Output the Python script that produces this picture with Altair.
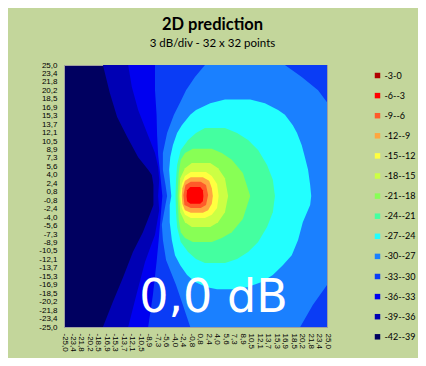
import altair as alt
import pandas as pd

# ---- legend bands (top to bottom) and their colours ----
bands = ["-3-0", "-6--3", "-9--6", "-12--9", "-15--12", "-18--15", "-21--18",
         "-24--21", "-27--24", "-30--27", "-33--30", "-36--33", "-39--36", "-42--39"]
colors = ["#b00000", "#ff0000", "#ff5a2a", "#ffa640", "#ffff40", "#ccff44", "#88ff55",
          "#44ffa0", "#22ffff", "#1a80ff", "#0a3cf5", "#0000f0", "#0000b4", "#000060"]

# ---- axis tick labels (32 grid points, -25 .. 25) ----
tick_labels = ["-25,0", "-23,4", "-21,8", "-20,2", "-18,5", "-16,9", "-15,3", "-13,7",
               "-12,1", "-10,5", "-8,9", "-7,3", "-5,6", "-4,0", "-2,4", "-0,8",
               "0,8", "2,4", "4,0", "5,6", "7,3", "8,9", "10,5", "12,1",
               "13,7", "15,3", "16,9", "18,5", "20,2", "21,8", "23,4", "25,0"]
tick_values = [-25 + i * 50 / 31 for i in range(32)]

# ---- contour regions: rows of (y, x_left, x_right) ----
above_39 = [(25.0, -17.6, 25), (19.7, -16.3, 25), (15.1, -14.9, 25), (11.3, -13.0, 25),
            (7.4, -10.9, 25), (5.0, -9.0, 25), (4.0, -8.3, 25), (2.1, -8.0, 25),
            (-1.7, -8.0, 25), (-3.6, -8.7, 25), (-6.9, -10.0, 25), (-10.7, -11.9, 25),
            (-15.6, -13.8, 25), (-20.2, -15.7, 25), (-25.0, -17.6, 25)]
above_36 = [(25.0, -12.8, 25), (20.8, -12.1, 25), (16.4, -10.9, 25), (12.0, -9.2, 25),
            (8.2, -7.7, 25), (5.5, -7.1, 25), (3.1, -6.9, 25), (0.0, -7.1, 25),
            (-2.7, -6.9, 25), (-7.4, -7.7, 25), (-12.6, -9.6, 25), (-18.3, -11.1, 25),
            (-25.0, -12.8, 25)]
above_33 = [(25.0, -7.7, 25), (20.2, -7.7, 25), (15.5, -7.4, 25), (11.6, -7.3, 25),
            (7.8, -7.1, 25), (5.0, -6.8, 25), (0.0, -6.3, 25), (-3.6, -6.6, 25),
            (-8.4, -7.0, 25), (-12.6, -7.4, 25), (-18.9, -8.1, 25), (-25.0, -9.0, 25)]
above_30 = [(25.0, 1.8, 17.0), (22.7, -0.1, 20.2), (20.2, -1.8, 23.3), (17.9, -2.9, 25),
            (15.5, -4.1, 25), (12.0, -5.4, 25), (8.2, -6.2, 25), (5.0, -6.2, 25),
            (2.1, -5.7, 25), (0.0, -5.4, 25), (-2.7, -5.9, 25), (-5.5, -6.4, 25),
            (-8.4, -6.2, 25), (-12.2, -5.6, 25), (-17.0, -3.7, 25), (-20.8, -2.4, 22.3),
            (-25.0, -1.0, 19.9)]
above_27 = [(18.4, 5.6, 10.4), (17.7, 2.8, 13.2), (16.4, 0.1, 15.7), (15.5, -1.0, 17.0),
            (13.5, -2.6, 18.5), (12.0, -3.5, 19.3), (9.7, -4.3, 20.2), (7.4, -4.8, 20.8),
            (5.0, -5.0, 21.4), (2.1, -4.8, 21.8), (0.0, -4.6, 22.0), (-1.7, -4.9, 21.8),
            (-5.0, -4.9, 20.4), (-8.4, -4.5, 19.5), (-11.3, -3.9, 18.3), (-13.2, -2.9, 16.6),
            (-15.1, -1.6, 14.7), (-16.4, -0.1, 12.6), (-17.4, 2.2, 9.8), (-17.8, 4.1, 6.9)]
above_24 = [(13.0, 1.8, 5.6), (12.0, 0.1, 7.9), (10.7, -1.4, 10.0), (8.8, -2.8, 11.9),
            (5.9, -3.5, 13.6), (3.1, -3.7, 14.7), (0.0, -3.8, 15.1), (-3.1, -3.7, 14.7),
            (-5.9, -3.5, 13.6), (-8.8, -2.8, 11.9), (-10.7, -1.4, 10.0), (-12.0, 0.1, 7.9),
            (-12.8, 1.8, 5.6)]
above_21 = [(9.0, -0.5, 3.1), (8.2, -2.0, 5.0), (6.9, -2.8, 6.9), (4.4, -3.2, 9.0),
            (0.0, -3.4, 10.4), (-4.4, -3.2, 9.0), (-6.9, -2.8, 6.9), (-8.0, -2.0, 5.0),
            (-8.8, -0.5, 3.1)]
above_18 = [(6.3, -0.7, 2.8), (5.3, -2.0, 4.3), (3.4, -2.9, 5.6), (0.0, -3.1, 6.2),
            (-3.1, -2.9, 5.6), (-5.0, -2.0, 4.3), (-5.9, -0.7, 2.8)]
above_15 = [(4.6, -0.9, 2.0), (3.8, -2.0, 3.1), (2.3, -2.6, 4.1), (0.0, -2.9, 4.4),
            (-2.3, -2.6, 4.1), (-3.6, -2.0, 3.1), (-4.2, -0.9, 1.8)]
above_12 = [(3.6, -0.9, 1.4), (2.9, -2.0, 2.6), (1.5, -2.5, 3.1), (0.0, -2.6, 3.3),
            (-1.5, -2.5, 3.1), (-2.7, -2.0, 2.4), (-3.2, -0.9, 1.4)]
above_9 = [(2.7, -0.9, 1.0), (2.1, -1.9, 2.0), (0.2, -2.3, 2.4), (-1.7, -2.1, 2.0),
           (-2.3, -0.9, 1.0)]
above_6 = [(1.7, -1.0, 0.9), (1.1, -1.6, 1.4), (0.0, -1.7, 1.5), (-1.0, -1.6, 1.4),
           (-1.5, -1.0, 0.9)]

levels = [("-39--36", above_39), ("-36--33", above_36), ("-33--30", above_33),
          ("-30--27", above_30), ("-27--24", above_27), ("-24--21", above_24),
          ("-21--18", above_21), ("-18--15", above_18), ("-15--12", above_15),
          ("-12--9", above_12), ("-9--6", above_9), ("-6--3", above_6)]

label_array = "[" + ",".join("'%s'" % s for s in tick_labels) + "]"
label_expr = label_array + "[round((datum.value + 25) * 31 / 50)]"

xscale = alt.Scale(domain=[-25, 25], nice=False, zero=False)
yscale = alt.Scale(domain=[-25, 25], nice=False, zero=False)

x_axis = alt.Axis(values=tick_values, labelExpr=label_expr, labelAngle=90, labelAlign="left",
                  labelBaseline="middle", labelPadding=6, domain=False, ticks=False, grid=False,
                  title=None, labelFont="Liberation Sans", labelFontSize=8, labelColor="black",
                  labelOverlap=False, labelFlush=False, labelBound=False)
y_axis = alt.Axis(values=tick_values, labelExpr=label_expr, labelPadding=7, domain=False,
                  ticks=False, grid=False, title=None, labelFont="Liberation Sans",
                  labelFontSize=8, labelColor="black", labelOverlap=False, labelFlush=False,
                  labelBound=False)

color = alt.Color("band:N", scale=alt.Scale(domain=bands, range=colors),
                  legend=alt.Legend(orient="none", legendX=309, legendY=6, title=None,
                                    symbolType="square", symbolSize=30, symbolStrokeWidth=0,
                                    labelFont="Lato", labelFontSize=9, labelColor="black",
                                    labelOffset=2.5, rowPadding=10.1, padding=0))

layers = []
for name, rows in levels:
    df = pd.DataFrame(rows, columns=["y", "lo", "hi"])
    df["band"] = name
    layers.append(
        alt.Chart(df).mark_area(orient="horizontal", clip=True, opacity=1).encode(
            y=alt.Y("y:Q", scale=yscale, axis=y_axis),
            x=alt.X("lo:Q", scale=xscale, axis=x_axis),
            x2="hi:Q",
            color=color,
        )
    )

annot = pd.DataFrame({"t": ["0,0 dB"]})
layers.append(
    alt.Chart(annot).mark_text(font="DejaVu Sans", fontSize=46, color="white",
                               align="center", baseline="alphabetic").encode(
        text="t:N", x=alt.value(149.5), y=alt.value(247))
)

chart = alt.layer(*layers).properties(
    width=263, height=262,
    padding={"left": 56, "top": 57, "right": 91, "bottom": 31},
    autosize=alt.AutoSizeParams(type="none"),
    background="#c3d69b",
    title=alt.TitleParams("2D prediction", subtitle="3 dB/div - 32 x 32 points",
                          font="Lato", fontSize=16.5, fontWeight="bold", color="black",
                          subtitleFont="Lato", subtitleFontSize=11.5, subtitleColor="black",
                          anchor="middle", dx=17, offset=12, subtitlePadding=4),
).configure_view(fill="#000060", stroke="#a0a0a0", strokeWidth=1)

chart.save("out.html", embed_options={"renderer": "svg", "actions": False})
